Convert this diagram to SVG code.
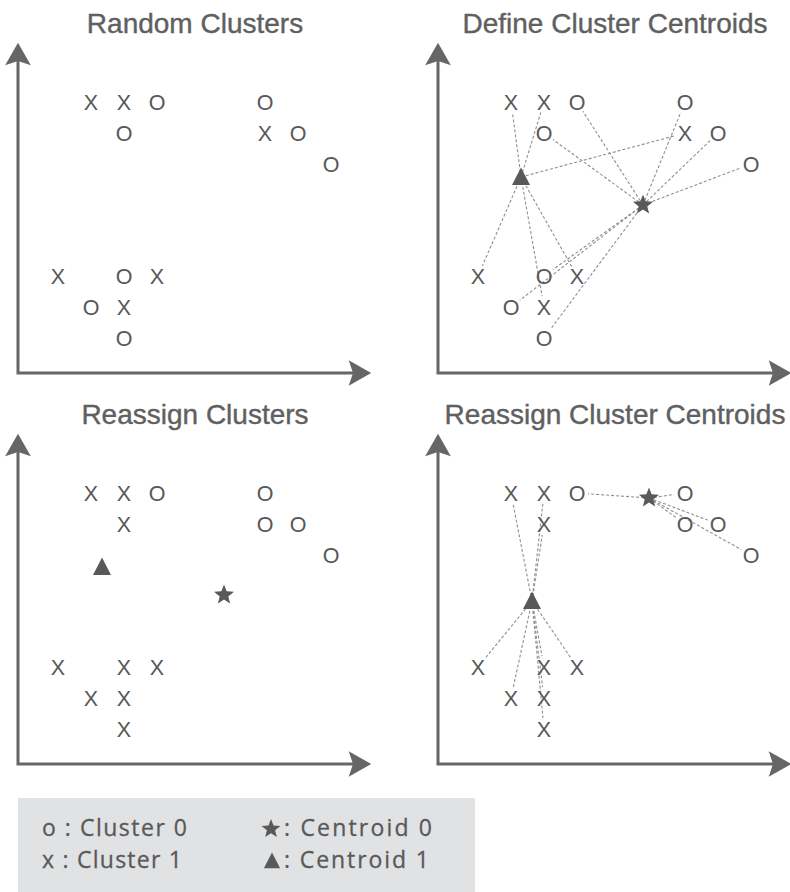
<svg xmlns="http://www.w3.org/2000/svg" xmlns:xlink="http://www.w3.org/1999/xlink" width="790" height="892" viewBox="0 0 790 892">
<style>
.title{font-family:"Liberation Sans",Arial,sans-serif;font-size:28px;fill:#606060;text-anchor:middle;stroke:#606060;stroke-width:0.4}
.m{font-family:"Liberation Sans",Arial,sans-serif;font-size:21.5px;fill:#585858;text-anchor:middle}
.axis{fill:none;stroke:#666;stroke-width:3;marker-start:url(#ah);marker-end:url(#ah)}
.dash{stroke:#8f8f8f;stroke-width:1.1;stroke-dasharray:3 2;fill:none}
.cen{fill:#595959}
.leg{font-family:"Open Sans","Liberation Sans",sans-serif;font-size:23px;fill:#595959;stroke:#595959;stroke-width:0.3}
</style>
<defs>
<marker id="ah" markerUnits="userSpaceOnUse" markerWidth="30" markerHeight="30" viewBox="-6 -14 26 28" refX="0" refY="0" orient="auto-start-reverse">
<path d="M-4,-12 L17,0 L-4,12 L0,0 Z" fill="#666"/>
</marker>
<path id="star" d="M0,-10.5 L2.65,-3.64 L9.99,-3.24 L4.28,1.39 L6.17,8.49 L0,4.5 L-6.17,8.49 L-4.28,1.39 L-9.99,-3.24 L-2.65,-3.64 Z"/>
<path id="tri" d="M0,-9.5 L9,8 L-9,8 Z"/>
</defs>
<rect width="790" height="892" fill="#fff"/>

<!-- Panel 1 -->
<g id="panel1">
<text class="title" x="195" y="33">Random Clusters</text>
<path class="axis" d="M18,61 V373 H353"/>
<g id="p1-points">
<text id="p1-a" class="m" x="91" y="109.5">X</text>
<text id="p1-b" class="m" x="124" y="109.5">X</text>
<text id="p1-c" class="m" x="157" y="109.5">O</text>
<text id="p1-d" class="m" x="265" y="109.5">O</text>
<text id="p1-e" class="m" x="124" y="140.5">O</text>
<text id="p1-f" class="m" x="265" y="140.5">X</text>
<text id="p1-g" class="m" x="298" y="140.5">O</text>
<text id="p1-h" class="m" x="331" y="171.5">O</text>
<text id="p1-i" class="m" x="58" y="283.5">X</text>
<text id="p1-j" class="m" x="124" y="283.5">O</text>
<text id="p1-k" class="m" x="157" y="283.5">X</text>
<text id="p1-l" class="m" x="91" y="314.5">O</text>
<text id="p1-m" class="m" x="124" y="314.5">X</text>
<text id="p1-n" class="m" x="124" y="345.5">O</text>
</g>
</g>

<!-- Panel 2 -->
<g id="panel2">
<text class="title" x="615" y="33">Define Cluster Centroids</text>
<path class="axis" d="M438,61 V373 H773"/>
<g id="p2-connectors">
<line class="dash" x1="521" y1="177" x2="512.5" y2="112.9"/>
<line class="dash" x1="521" y1="177" x2="540.8" y2="112.5"/>
<line class="dash" x1="521" y1="177" x2="674.4" y2="135.9"/>
<line class="dash" x1="521" y1="177" x2="482.4" y2="265.9"/>
<line class="dash" x1="521" y1="177" x2="571.6" y2="266.4"/>
<line class="dash" x1="521" y1="177" x2="542.1" y2="296.2"/>
<line class="dash" x1="643" y1="205" x2="582.9" y2="111.3"/>
<line class="dash" x1="643" y1="205" x2="680.8" y2="112.2"/>
<line class="dash" x1="643" y1="205" x2="552.9" y2="139.5"/>
<line class="dash" x1="643" y1="205" x2="710.1" y2="140.6"/>
<line class="dash" x1="643" y1="205" x2="740.7" y2="167.9"/>
<line class="dash" x1="643" y1="205" x2="552.9" y2="269.6"/>
<line class="dash" x1="643" y1="205" x2="519.7" y2="300.3"/>
<line class="dash" x1="643" y1="205" x2="550.6" y2="329.2"/>
</g>
<g id="p2-points">
<text id="p2-a" class="m" x="511" y="109.5">X</text>
<text id="p2-b" class="m" x="544" y="109.5">X</text>
<text id="p2-c" class="m" x="577" y="109.5">O</text>
<text id="p2-d" class="m" x="685" y="109.5">O</text>
<text id="p2-e" class="m" x="544" y="140.5">O</text>
<text id="p2-f" class="m" x="685" y="140.5">X</text>
<text id="p2-g" class="m" x="718" y="140.5">O</text>
<text id="p2-h" class="m" x="751" y="171.5">O</text>
<text id="p2-i" class="m" x="478" y="283.5">X</text>
<text id="p2-j" class="m" x="544" y="283.5">O</text>
<text id="p2-k" class="m" x="577" y="283.5">X</text>
<text id="p2-l" class="m" x="511" y="314.5">O</text>
<text id="p2-m" class="m" x="544" y="314.5">X</text>
<text id="p2-n" class="m" x="544" y="345.5">O</text>
</g>
<g id="p2-centroid1"><use class="cen" xlink:href="#tri" href="#tri" x="521" y="177"/></g>
<g id="p2-centroid0"><use class="cen" xlink:href="#star" href="#star" x="643" y="205"/></g>
</g>

<!-- Panel 3 -->
<g id="panel3">
<text class="title" x="195" y="424">Reassign Clusters</text>
<path class="axis" d="M18,452 V764 H353"/>
<g id="p3-points">
<text id="p3-a" class="m" x="91" y="500.5">X</text>
<text id="p3-b" class="m" x="124" y="500.5">X</text>
<text id="p3-c" class="m" x="157" y="500.5">O</text>
<text id="p3-d" class="m" x="265" y="500.5">O</text>
<text id="p3-e" class="m" x="124" y="531.5">X</text>
<text id="p3-f" class="m" x="265" y="531.5">O</text>
<text id="p3-g" class="m" x="298" y="531.5">O</text>
<text id="p3-h" class="m" x="331" y="562.5">O</text>
<text id="p3-i" class="m" x="58" y="674.5">X</text>
<text id="p3-j" class="m" x="124" y="674.5">X</text>
<text id="p3-k" class="m" x="157" y="674.5">X</text>
<text id="p3-l" class="m" x="91" y="705.5">X</text>
<text id="p3-m" class="m" x="124" y="705.5">X</text>
<text id="p3-n" class="m" x="124" y="736.5">X</text>
</g>
<g id="p3-centroid1"><use class="cen" xlink:href="#tri" href="#tri" x="102" y="567"/></g>
<g id="p3-centroid0"><use class="cen" xlink:href="#star" href="#star" x="224" y="595"/></g>
</g>

<!-- Panel 4 -->
<g id="panel4">
<text class="title" x="615" y="424">Reassign Cluster Centroids</text>
<path class="axis" d="M438,452 V764 H773"/>
<g id="p4-connectors">
<line class="dash" x1="649" y1="498" x2="588" y2="493.8"/>
<line class="dash" x1="649" y1="498" x2="674.1" y2="494.5"/>
<line class="dash" x1="649" y1="498" x2="676.1" y2="517.6"/>
<line class="dash" x1="649" y1="498" x2="707.7" y2="520.1"/>
<line class="dash" x1="649" y1="498" x2="741.4" y2="549.6"/>
<line class="dash" x1="532" y1="601" x2="513.1" y2="503.8"/>
<line class="dash" x1="532" y1="601" x2="542.8" y2="503.9"/>
<line class="dash" x1="532" y1="601" x2="542.3" y2="534.9"/>
<line class="dash" x1="532" y1="601" x2="485" y2="658.5"/>
<line class="dash" x1="532" y1="601" x2="542" y2="656.2"/>
<line class="dash" x1="532" y1="601" x2="570.8" y2="657.9"/>
<line class="dash" x1="532" y1="601" x2="513.3" y2="687.2"/>
<line class="dash" x1="532" y1="601" x2="542.6" y2="687.1"/>
<line class="dash" x1="532" y1="601" x2="543" y2="718.1"/>
</g>
<g id="p4-points">
<text id="p4-a" class="m" x="511" y="500.5">X</text>
<text id="p4-b" class="m" x="544" y="500.5">X</text>
<text id="p4-c" class="m" x="577" y="500.5">O</text>
<text id="p4-d" class="m" x="685" y="500.5">O</text>
<text id="p4-e" class="m" x="544" y="531.5">X</text>
<text id="p4-f" class="m" x="685" y="531.5">O</text>
<text id="p4-g" class="m" x="718" y="531.5">O</text>
<text id="p4-h" class="m" x="751" y="562.5">O</text>
<text id="p4-i" class="m" x="478" y="674.5">X</text>
<text id="p4-j" class="m" x="544" y="674.5">X</text>
<text id="p4-k" class="m" x="577" y="674.5">X</text>
<text id="p4-l" class="m" x="511" y="705.5">X</text>
<text id="p4-m" class="m" x="544" y="705.5">X</text>
<text id="p4-n" class="m" x="544" y="736.5">X</text>
</g>
<g id="p4-centroid1"><use class="cen" xlink:href="#tri" href="#tri" x="532" y="601"/></g>
<g id="p4-centroid0"><use class="cen" xlink:href="#star" href="#star" x="649" y="498"/></g>
</g>

<!-- Legend -->
<g id="legend">
<rect x="18" y="798" width="457" height="94" fill="#e1e2e4"/>
<text class="leg" x="42" y="836" textLength="145" lengthAdjust="spacing">o : Cluster 0</text>
<text class="leg" x="42" y="868" textLength="140" lengthAdjust="spacing">x : Cluster 1</text>
<use class="cen" xlink:href="#star" href="#star" transform="translate(271,829) scale(0.95)"/>
<text class="leg" x="284" y="836" textLength="148" lengthAdjust="spacing">: Centroid 0</text>
<use class="cen" xlink:href="#tri" href="#tri" transform="translate(272,861) scale(0.9)"/>
<text class="leg" x="284" y="868" textLength="145" lengthAdjust="spacing">: Centroid 1</text>
</g>
</svg>
